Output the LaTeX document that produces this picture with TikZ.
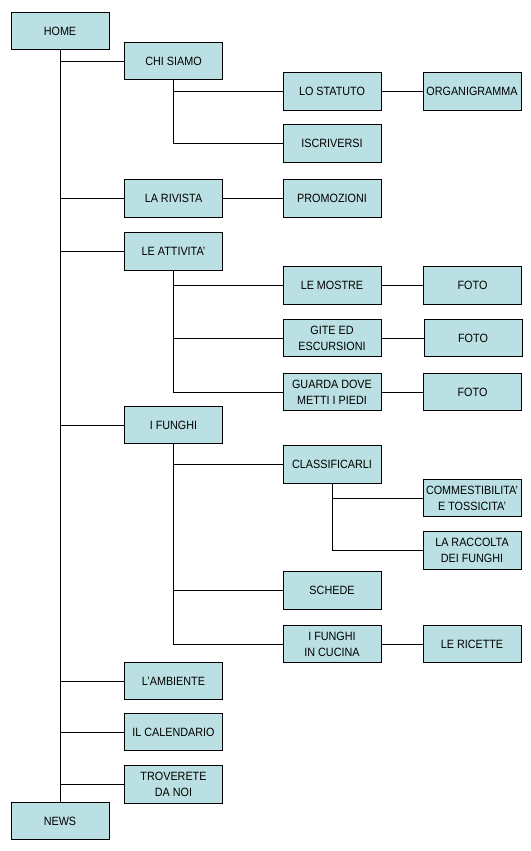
\documentclass[tikz,border=0pt]{standalone}
\usepackage{fontspec}
\setmainfont{Liberation Sans}[FakeStretch=0.9]
\definecolor{boxfill}{HTML}{BBE0E3}
\begin{document}
\begin{tikzpicture}[x=1pt,y=-1pt,
  bx/.style={draw=black,line width=0.9pt,fill=boxfill,minimum width=98pt,minimum height=37.5pt,
    inner sep=0pt,align=center,font=\fontsize{12}{16}\selectfont},
  ln/.style={line width=0.9pt,draw=black}]
\fill[white] (0,0) rectangle (530,851);
\useasboundingbox (0,0) rectangle (530,851);
\node[bx] (home) at (60,31) {HOME};
\node[bx] (news) at (60,821) {NEWS};
\node[bx] (chi) at (173.5,61) {CHI SIAMO};
\node[bx] (stat) at (332,91.5) {LO STATUTO};
\node[bx] (org) at (472,91.5) {ORGANIGRAMMA};
\node[bx] (iscr) at (332,143.5) {ISCRIVERSI};
\node[bx] (riv) at (173.5,198.5) {LA RIVISTA};
\node[bx] (promo) at (332,198.5) {PROMOZIONI};
\node[bx] (att) at (173.5,251.5) {LE ATTIVITA'};
\node[bx] (mostre) at (332,285.5) {LE MOSTRE};
\node[bx] (foto1) at (472.5,285.5) {FOTO};
\node[bx] (gite) at (332,338) {GITE ED\\ESCURSIONI};
\node[bx] (foto2) at (473,338) {FOTO};
\node[bx] (guarda) at (332,392) {GUARDA DOVE\\METTI I PIEDI};
\node[bx] (foto3) at (472.5,392) {FOTO};
\node[bx] (funghi) at (173.5,425) {I FUNGHI};
\node[bx] (class) at (332,464.5) {CLASSIFICARLI};
\node[bx] (comm) at (472,498) {COMMESTIBILITA'\\E TOSSICITA'};
\node[bx] (racc) at (472,550.5) {LA RACCOLTA\\DEI FUNGHI};
\node[bx] (schede) at (332,590.5) {SCHEDE};
\node[bx] (cucina) at (332,644) {I FUNGHI\\IN CUCINA};
\node[bx] (ricette) at (472,644) {LE RICETTE};
\node[bx] (amb) at (173.5,681) {L'AMBIENTE};
\node[bx] (cal) at (173.5,732) {IL CALENDARIO};
\node[bx] (trov) at (173.5,784.5) {TROVERETE\\DA NOI};
% trunk
\draw[ln] (home.south) -- (news.north);
\foreach \n in {chi,riv,att,funghi,amb,cal,trov}
  \draw[ln] (home.south |- \n.west) -- (\n.west);
% chi siamo
\draw[ln] (chi.south) -- (chi.south |- iscr.west) -- (iscr.west);
\draw[ln] (chi.south |- stat.west) -- (stat.west);
\draw[ln] (stat.east) -- (org.west);
\draw[ln] (riv.east) -- (promo.west);
% attivita
\draw[ln] (att.south) -- (att.south |- guarda.west) -- (guarda.west);
\draw[ln] (att.south |- mostre.west) -- (mostre.west);
\draw[ln] (att.south |- gite.west) -- (gite.west);
\draw[ln] (mostre.east) -- (foto1.west);
\draw[ln] (gite.east) -- (foto2.west);
\draw[ln] (guarda.east) -- (foto3.west);
% funghi
\draw[ln] (funghi.south) -- (funghi.south |- cucina.west) -- (cucina.west);
\draw[ln] (funghi.south |- class.west) -- (class.west);
\draw[ln] (funghi.south |- schede.west) -- (schede.west);
\draw[ln] (class.south) -- (class.south |- racc.west) -- (racc.west);
\draw[ln] (class.south |- comm.west) -- (comm.west);
\draw[ln] (cucina.east) -- (ricette.west);
\end{tikzpicture}
\end{document}
